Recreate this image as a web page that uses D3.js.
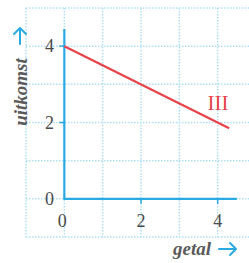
<!DOCTYPE html>
<html><head><meta charset="utf-8">
<script src="https://cdn.jsdelivr.net/npm/d3@7"></script>
<style>html,body{margin:0;padding:0;background:#fff;}svg{display:block;}</style>
</head><body>
<script>
const xTicks = [0, 2, 4];
const yTicks = [0, 2, 4];
const gridX = [-1, 0, 1, 2, 3, 4];
const gridY = [-1, 0, 1, 2, 3, 4, 5];
const lineX = [0, 4.3];
const lineY = [4, 1.85];
const seriesLabel = "III";
const xLabel = "getal";
const yLabel = "uitkomst";

const W = 249, H = 263;
const svg = d3.select("body").append("svg").attr("width", W).attr("height", H);
const x = d3.scaleLinear().domain([-1, 5]).range([26, 256]);
const y = d3.scaleLinear().domain([-1, 5]).range([237, 8]);
const blue = "#2aaae2", grid = "#b0dff5", red = "#e8434a", txt = "#4a4a4a";
const font = "'Liberation Serif', 'DejaVu Serif', serif";

const g = svg.append("g");
g.selectAll("line.gx").data(gridX).join("line")
  .attr("x1", d => x(d)).attr("x2", d => x(d))
  .attr("y1", y(5)).attr("y2", y(-1))
  .attr("stroke", grid).attr("stroke-width", 1.5).attr("stroke-dasharray", "1.5,1.5");
g.selectAll("line.gy").data(gridY).join("line")
  .attr("y1", d => y(d)).attr("y2", d => y(d))
  .attr("x1", x(-1)).attr("x2", W)
  .attr("stroke", grid).attr("stroke-width", 1.5).attr("stroke-dasharray", "1.5,1.5");

// axes
svg.append("line").attr("x1", x(0)).attr("x2", x(0)).attr("y1", y(0)).attr("y2", y(4.45))
  .attr("stroke", blue).attr("stroke-width", 2.2);
svg.append("line").attr("x1", x(0) - 1).attr("x2", x(4.5)).attr("y1", y(0)).attr("y2", y(0))
  .attr("stroke", blue).attr("stroke-width", 2.2);
svg.selectAll("line.tx").data(xTicks.filter(d => d !== 0)).join("line")
  .attr("x1", d => x(d)).attr("x2", d => x(d)).attr("y1", y(0)).attr("y2", y(0) + 5)
  .attr("stroke", blue).attr("stroke-width", 1.5);
svg.selectAll("line.ty").data(yTicks.filter(d => d !== 0)).join("line")
  .attr("x1", x(0) - 5).attr("x2", x(0)).attr("y1", d => y(d)).attr("y2", d => y(d))
  .attr("stroke", blue).attr("stroke-width", 1.5);

// tick labels
svg.selectAll("text.xl").data(xTicks).join("text")
  .attr("x", d => x(d) - (d === 0 ? 2 : 0)).attr("y", 227)
  .attr("text-anchor", "middle").attr("font-family", font).attr("font-size", 18)
  .attr("fill", txt).text(d => d);
svg.selectAll("text.yl").data(yTicks).join("text")
  .attr("x", 54).attr("y", d => y(d) + 6)
  .attr("text-anchor", "end").attr("font-family", font).attr("font-size", 18)
  .attr("fill", txt).text(d => d);

// series line
const pts = lineX.map((v, i) => [v, lineY[i]]);
svg.append("path").attr("d", d3.line().x(d => x(d[0])).y(d => y(d[1]))(pts))
  .attr("stroke", red).attr("stroke-width", 2.2).attr("fill", "none");
svg.append("text").attr("x", 218).attr("y", 110).attr("text-anchor", "middle")
  .attr("font-family", font).attr("font-size", 21).attr("fill", red).text(seriesLabel);

// axis labels
svg.append("text").attr("x", 192).attr("y", 255).attr("text-anchor", "middle")
  .attr("font-family", font).attr("font-style", "italic").attr("font-weight", "bold")
  .attr("font-size", 19).attr("fill", "#5a5a5a").text(xLabel);
svg.append("text").attr("transform", "translate(27,92) rotate(-90)").attr("text-anchor", "middle")
  .attr("font-family", font).attr("font-style", "italic").attr("font-weight", "bold")
  .attr("font-size", 19).attr("fill", "#5a5a5a").text(yLabel);

// arrows
const arrowStyle = s => s.attr("fill", "none").attr("stroke", blue).attr("stroke-width", 2)
  .attr("stroke-linecap", "round").attr("stroke-linejoin", "round");
svg.append("path").attr("d", "M219,249H236M230,243L236,249L230,255").call(arrowStyle);
svg.append("path").attr("d", "M20,44V28M14,34L20,28L26,34").call(arrowStyle);
</script>
</body></html>
